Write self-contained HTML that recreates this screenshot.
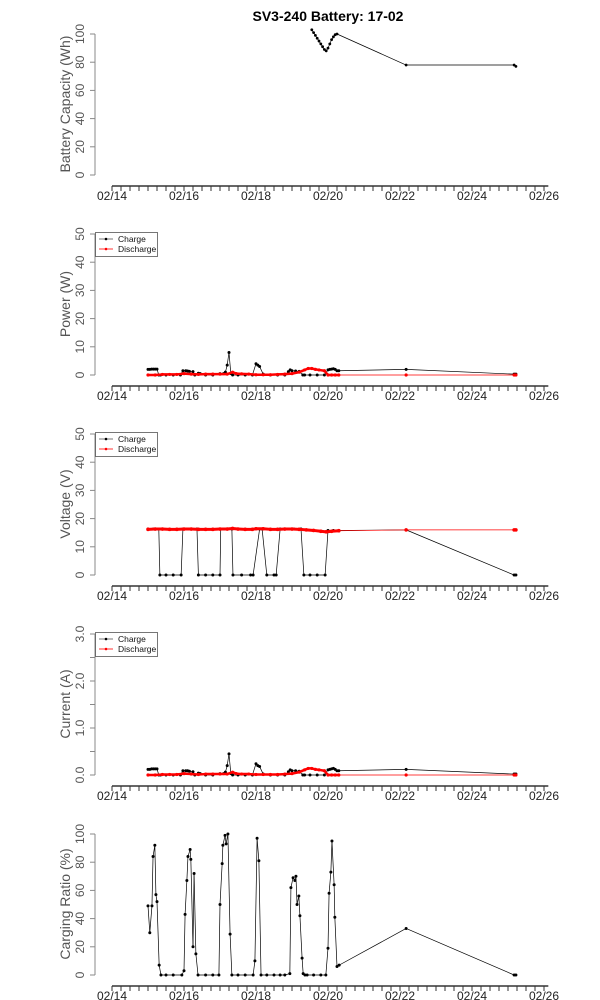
<!DOCTYPE html>
<html><head><meta charset="utf-8"><style>
html,body{margin:0;padding:0;background:#fff;}
svg{display:block;font-family:"Liberation Sans",sans-serif;}
</style></head><body>
<svg id="chart" width="600" height="1000" viewBox="0 0 600 1000" xmlns="http://www.w3.org/2000/svg">
<text x="328" y="21" text-anchor="middle" font-size="14" font-weight="bold">SV3-240 Battery: 17-02</text>
</svg>
<script>
// x tick labels (days from 02/14)
const xTickLabels = ["02/14","02/16","02/18","02/20","02/22","02/24","02/26"];
const xTickDays = [0,2,4,6,8,10,12];

// Battery capacity
const capT = [5.55,5.6,5.65,5.7,5.75,5.8,5.85,5.9,5.95,6.0,6.05,6.1,6.15,6.2,6.25,8.17,11.17,11.22];
const capV = [103,101,99,97,95,93,91,89,88,90,93,96,98,99.5,100,78,78,77];

// Power
const pwrChgT = [1.0,1.05,1.1,1.15,1.2,1.25,1.3,1.35,1.5,1.7,1.9,1.97,2.05,2.1,2.15,2.25,2.3,2.4,2.45,2.6,2.8,3.0,3.1,3.15,3.2,3.25,3.3,3.35,3.5,3.7,3.9,4.0,4.05,4.1,4.2,4.4,4.6,4.8,4.9,4.95,5.0,5.1,5.2,5.3,5.35,5.5,5.7,5.9,6.0,6.05,6.1,6.15,6.2,6.25,6.3,8.17,11.17,11.22];
const pwrChgV = [2,2,2.1,2.1,2.1,2.1,0,0,0,0,0,1.5,1.5,1.4,1.3,1.2,0,0.6,0.5,0,0,0.5,0.5,1,3.5,8,0.5,0,0,0,0,4,3.5,3,0.3,0,0,0,1.2,1.8,1.5,1.4,1.3,0,0,0,0,0,1.8,2,2.1,2.2,2,1.5,1.5,2,0.3,0.3];
const pwrDisT = [1.0,1.2,1.4,1.6,1.8,2.0,2.2,2.4,2.6,2.8,3.0,3.2,3.35,3.45,3.6,3.8,4.0,4.2,4.4,4.6,4.8,5.0,5.2,5.35,5.45,5.55,5.65,5.75,5.9,6.0,6.1,6.2,6.3,8.17,11.17,11.22];
const pwrDisV = [0,0,0.2,0.2,0.2,0.5,0.3,0.2,0.3,0.3,0.3,0.3,1,0.5,0.4,0.3,0.1,0.1,0.1,0.2,0.3,0.5,1,1.8,2.3,2.3,2,1.8,1.5,0,0,0,0,0,0,0];

// Voltage
const voltChgT = [1.0,1.15,1.3,1.33,1.5,1.7,1.92,1.97,2.15,2.36,2.4,2.6,2.8,3.0,3.02,3.2,3.33,3.36,3.6,3.85,3.92,4.1,4.17,4.3,4.5,4.56,4.67,4.8,4.94,5.05,5.25,5.33,5.5,5.7,5.92,6.0,6.15,6.3,8.17,11.17,11.22];
const voltChgV = [16.3,16.3,16.3,0,0,0,0,16.3,16.3,16.3,0,0,0,0,16.3,16.3,16.3,0,0,0,0,16.3,16.3,0,0,0,16.3,16.3,16.3,16.3,16.3,0,0,0,0,15.8,15.8,15.8,16,0,0];
const voltDisT = [1.0,1.2,1.4,1.6,1.8,2.0,2.2,2.4,2.6,2.8,3.0,3.2,3.35,3.5,3.7,3.9,4.0,4.2,4.4,4.6,4.8,5.0,5.2,5.4,5.6,5.8,5.95,6.1,6.3,8.17,11.17,11.22];
const voltDisV = [16.2,16.3,16.3,16.2,16.2,16.3,16.3,16.2,16.2,16.2,16.3,16.3,16.5,16.3,16.2,16.2,16.4,16.4,16.2,16.2,16.3,16.3,16.2,16,15.8,15.5,15.3,15.5,15.7,16,16,16];

// Current
const curChgT = [1.0,1.05,1.1,1.15,1.2,1.25,1.3,1.35,1.5,1.7,1.9,1.97,2.05,2.1,2.15,2.25,2.3,2.4,2.45,2.6,2.8,3.0,3.1,3.15,3.2,3.25,3.3,3.35,3.5,3.7,3.9,4.0,4.05,4.1,4.2,4.4,4.6,4.8,4.9,4.95,5.0,5.1,5.2,5.3,5.35,5.5,5.7,5.9,6.0,6.05,6.1,6.15,6.2,6.25,6.3,8.17,11.17,11.22];
const curChgV = [0.12,0.12,0.13,0.13,0.13,0.13,0,0,0,0,0,0.09,0.09,0.09,0.08,0.07,0,0.04,0.03,0,0,0.03,0.03,0.06,0.2,0.45,0.03,0,0,0,0,0.24,0.2,0.18,0.02,0,0,0,0.07,0.11,0.09,0.09,0.08,0,0,0,0,0,0.11,0.12,0.13,0.14,0.12,0.09,0.09,0.12,0.02,0.02];
const curDisT = [1.0,1.2,1.4,1.6,1.8,2.0,2.2,2.4,2.6,2.8,3.0,3.2,3.35,3.45,3.6,3.8,4.0,4.2,4.4,4.6,4.8,5.0,5.2,5.35,5.45,5.55,5.65,5.75,5.9,6.0,6.1,6.2,6.3,8.17,11.17,11.22];
const curDisV = [0,0,0.01,0.01,0.01,0.03,0.02,0.01,0.02,0.02,0.02,0.02,0.06,0.03,0.02,0.02,0.01,0.01,0.01,0.01,0.02,0.03,0.06,0.11,0.14,0.14,0.12,0.11,0.09,0,0,0,0,0,0,0];

// Charging ratio
const ratioT = [1.0,1.05,1.11,1.14,1.19,1.22,1.25,1.31,1.36,1.5,1.7,1.94,2.0,2.03,2.08,2.11,2.17,2.19,2.25,2.28,2.33,2.39,2.6,2.8,2.97,3.0,3.06,3.08,3.14,3.17,3.22,3.28,3.33,3.5,3.7,3.92,3.97,4.03,4.08,4.14,4.3,4.5,4.67,4.8,4.94,4.97,5.03,5.08,5.11,5.14,5.19,5.22,5.28,5.31,5.36,5.42,5.6,5.8,5.94,6.0,6.03,6.08,6.11,6.17,6.19,6.25,6.31,8.17,11.17,11.22];
const ratioV = [49,30,49,84,92,57,52,7,0,0,0,0,3,43,67,84,89,82,20,72,15,0,0,0,0,50,79,92,99,93,100,29,0,0,0,0,10,97,81,0,0,0,0,0,1,62,69,67,70,50,56,42,12,1,0,0,0,0,0,19,58,73,95,64,41,6,7,33,0,0];

const NS = "http://www.w3.org/2000/svg";
const svg = document.getElementById("chart");
function X(d){ return 112 + 36*d; }
function el(tag, attrs, parent){
  const e = document.createElementNS(NS, tag);
  for (const k in attrs) e.setAttribute(k, attrs[k]);
  (parent||svg).appendChild(e);
  return e;
}

function panel(name, top, yMax, ticks, tickLabels, title, series, legend){
  const g = el("g", {});
  
  
  const y0 = top + 141;
  const Y = v => y0 - v / yMax * 141;
  const ya = el("g", {}, g);
  
  
  el("line", {x1:95, x2:95, y1:Y(ticks[ticks.length-1]), y2:Y(ticks[0]), stroke:"#888", "stroke-width":1}, ya);
  ticks.forEach((t,i) => {
    el("line", {x1:90, x2:95, y1:Y(t), y2:Y(t), stroke:"#888", "stroke-width":1}, ya);
    if (tickLabels[i] !== "") {
      const tx = el("text", {x:0, y:0, "font-size":12, fill:"#555", "text-anchor":"middle",
        transform:`translate(84,${Y(t)}) rotate(-90)`}, ya);
      tx.textContent = tickLabels[i];
    }
  });
  const yt = el("text", {"font-size":14, fill:"#555", "text-anchor":"middle",
    transform:`translate(70,${top+70}) rotate(-90)`}, g);
  
  
  yt.textContent = title;
  const xa = el("g", {}, g);
  
  
  const ax = y0 + 11;
  el("line", {x1:X(0), x2:X(12.12), y1:ax, y2:ax, stroke:"#333", "stroke-width":1.5}, xa);
  for (let q = 0; q <= 48; q++) {
    const d = q/4;
    el("line", {x1:X(d), x2:X(d), y1:ax, y2:ax+5, stroke:"#333", "stroke-width":1}, xa);
  }
  xTickDays.forEach((d,i) => {
    const tx = el("text", {x:X(d), y:ax+14, "font-size":12, fill:"#222", "text-anchor":"middle"}, xa);
    tx.textContent = xTickLabels[i];
  });
  series.forEach(s => {
    const sg = el("g", {}, g);
    
    
    for (let i = 1; i < s.t.length; i++) {
      const gap = s.t[i] - s.t[i-1] > 1;
      el("line", {x1:X(s.t[i-1]), y1:Y(s.v[i-1]), x2:X(s.t[i]), y2:Y(s.v[i]), stroke:s.color,
        "stroke-width": gap ? 0.7 : s.w, "stroke-linecap":"round"}, sg);
    }
    s.t.forEach((t,i) => {
      const c = el("circle", {cx:X(t), cy:Y(s.v[i]), r:s.r, fill:s.color}, sg);
      
      
    });
  });
  if (legend) {
    const lg = el("g", {}, g);
    
    
    el("rect", {x:95.5, y:top-1.5, width:62, height:24, fill:"#fff", stroke:"#555", "stroke-width":0.8}, lg);
    [["Charge","#000"],["Discharge","#f00"]].forEach((e,i) => {
      const yy = top + 5 + i*10;
      el("line", {x1:99, x2:113, y1:yy, y2:yy, stroke:e[1]==="#000"?"#555":"#f00", "stroke-width":0.8}, lg);
      el("circle", {cx:106, cy:yy, r:1.3, fill:e[1]}, lg);
      const tx = el("text", {x:118, y:yy+3, "font-size":8.5, fill:"#111"}, lg);
      
      
      tx.textContent = e[0];
    });
  }
}

panel("capacity", 34, 100, [0,20,40,60,80,100], ["0","20","40","60","80","100"], "Battery Capacity (Wh)",
  [{name:"capacity", t:capT, v:capV, color:"#000", w:0.7, r:1.4}], false);
panel("power", 234, 50, [0,10,20,30,40,50], ["0","10","20","30","40","50"], "Power (W)",
  [{name:"charge", t:pwrChgT, v:pwrChgV, color:"#000", w:0.7, r:1.5},
   {name:"discharge", t:pwrDisT, v:pwrDisV, color:"#f00", w:2.5, r:1.6}], true);
panel("voltage", 434, 50, [0,10,20,30,40,50], ["0","10","20","30","40","50"], "Voltage (V)",
  [{name:"charge", t:voltChgT, v:voltChgV, color:"#000", w:0.7, r:1.5},
   {name:"discharge", t:voltDisT, v:voltDisV, color:"#f00", w:3, r:1.8}], true);
panel("current", 634, 3, [0,0.5,1,1.5,2,2.5,3], ["0.0","","1.0","","2.0","","3.0"], "Current (A)",
  [{name:"charge", t:curChgT, v:curChgV, color:"#000", w:0.7, r:1.5},
   {name:"discharge", t:curDisT, v:curDisV, color:"#f00", w:2.5, r:1.6}], true);
panel("ratio", 834, 100, [0,20,40,60,80,100], ["0","20","40","60","80","100"], "Carging Ratio (%)",
  [{name:"ratio", t:ratioT, v:ratioV, color:"#000", w:0.7, r:1.5}], false);
</script>
</body></html>
